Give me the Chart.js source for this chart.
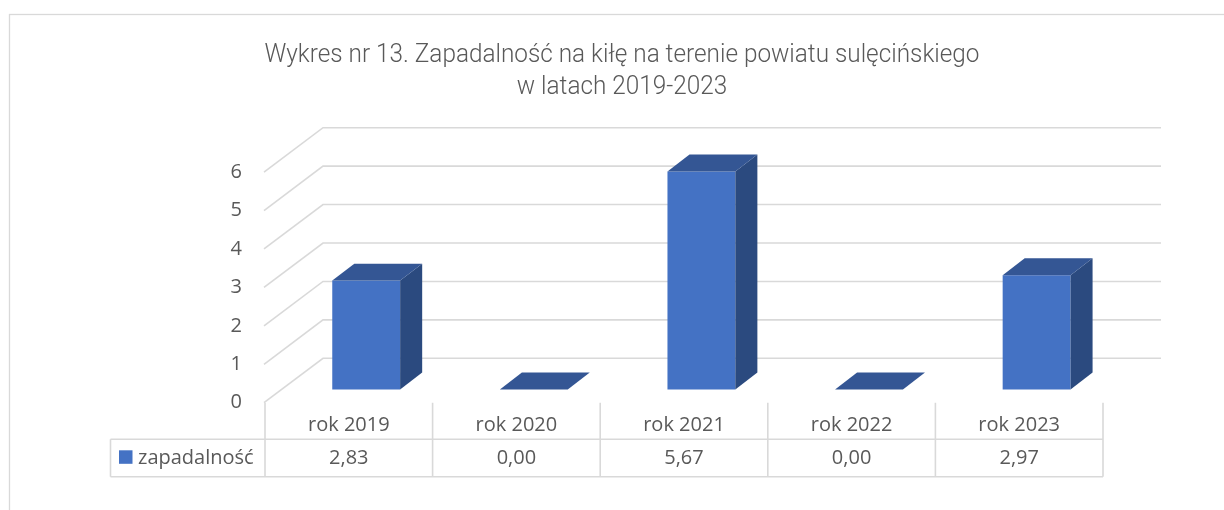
<!DOCTYPE html>
<html lang="pl">
<head>
    <meta charset="UTF-8" />
    <title>Wykres nr 13 - zapadalność na kiłę</title>
    <script src="https://cdn.jsdelivr.net/npm/chart.js"></script>
    <style>
        body { margin: 0; background: #fff; }
    </style>
</head>
<body>
    <canvas id="chart" width="1224" height="510"></canvas>

    <script>
        // dane
        const categories = ['rok 2019', 'rok 2020', 'rok 2021', 'rok 2022', 'rok 2023'];
        const incidence = [2.83, 0.00, 5.67, 0.00, 2.97];
        const yTicks = [0, 1, 2, 3, 4, 5, 6];
        const seriesName = 'zapadalność';
        const titleLines = [
            'Wykres nr 13. Zapadalność na kiłę na terenie powiatu sulęcińskiego',
            'w latach 2019-2023'
        ];

        // wygląd
        const GRID = '#d9d9d9';
        const TEXT = '#595959';
        const FRONT = '#4472c4';
        const TOP = '#345694';
        const SIDE = '#2b4a7f';
        const FONT = '"Open Sans", "Noto Sans", sans-serif';
        const DEPTH = { x: 58, y: -44.4 };  // głębokość podłogi 3D
        const BAR_Z0 = 0.3, BAR_Z1 = 0.68;   // przód / tył słupka w głębi
        const TITLE_WIDTH = 715;

        const fmt = v => v.toFixed(2).replace('.', ',');

        const frame3d = {
            id: 'frame3d',
            beforeDraw(chart) {
                const { ctx, chartArea: a, scales: { x, y } } = chart;
                ctx.save();
                ctx.fillStyle = '#fff';
                ctx.fillRect(0, 0, chart.width, chart.height);

                // ramka obszaru wykresu
                ctx.strokeStyle = GRID;
                ctx.lineWidth = 1.3;
                ctx.strokeRect(9.5, 14.5, chart.width + 20, chart.height + 20);

                // tytuł (wąska czcionka)
                ctx.fillStyle = TEXT;
                ctx.font = '300 26px Roboto';
                ctx.textAlign = 'center';
                ctx.textBaseline = 'alphabetic';
                const sx = TITLE_WIDTH / ctx.measureText(titleLines[0]).width;
                titleLines.forEach((t, i) => {
                    ctx.save();
                    ctx.translate(622, 62 + i * 31.6);
                    ctx.scale(sx, 1);
                    ctx.fillText(t, 0, 0);
                    ctx.restore();
                });

                // ściana boczna i tylna
                ctx.lineWidth = 1.6;
                ctx.strokeStyle = GRID;
                y.ticks.forEach(t => {
                    const py = y.getPixelForValue(t.value);
                    ctx.beginPath();
                    ctx.moveTo(a.left - 1, py);
                    ctx.lineTo(a.left + DEPTH.x, py + DEPTH.y);
                    ctx.lineTo(a.right + DEPTH.x, py + DEPTH.y);
                    ctx.stroke();
                });

                // tabela danych
                const catW = x.width / categories.length;
                const top = a.bottom, mid = a.bottom + 36.6, bot = a.bottom + 74;
                const left = 110.5;
                ctx.beginPath();
                categories.forEach((c, i) => {
                    const px = x.getPixelForValue(i) - catW / 2;
                    ctx.moveTo(px, top);
                    ctx.lineTo(px, bot);
                });
                const lastX = x.getPixelForValue(categories.length - 1) + catW / 2;
                ctx.moveTo(lastX, top);
                ctx.lineTo(lastX, bot);
                ctx.moveTo(left, mid); ctx.lineTo(lastX, mid);
                ctx.moveTo(left, bot); ctx.lineTo(lastX, bot);
                ctx.moveTo(left, mid); ctx.lineTo(left, bot);
                ctx.stroke();

                ctx.font = '20px ' + FONT;
                ctx.fillStyle = TEXT;
                ctx.textBaseline = 'middle';
                ctx.textAlign = 'center';
                categories.forEach((c, i) => {
                    const px = x.getPixelForValue(i);
                    ctx.fillText(c, px, top + 23);
                    ctx.fillText(fmt(incidence[i]), px, mid + 19);
                });
                ctx.fillStyle = FRONT;
                ctx.fillRect(119, mid + 11, 13.5, 13.5);
                ctx.fillStyle = TEXT;
                ctx.textAlign = 'left';
                ctx.fillText(seriesName, 138, mid + 18.5);
                ctx.restore();
            },
            beforeDatasetsDraw(chart) {
                chart.ctx.save();
                chart.ctx.translate(DEPTH.x * BAR_Z0, DEPTH.y * BAR_Z0);
            },
            afterDatasetsDraw(chart) {
                const ctx = chart.ctx;
                const dx = DEPTH.x * (BAR_Z1 - BAR_Z0), dy = DEPTH.y * (BAR_Z1 - BAR_Z0);
                chart.getDatasetMeta(0).data.forEach(bar => {
                    const { x, y, base, width } = bar.getProps(['x', 'y', 'base', 'width'], true);
                    const l = x - width / 2, r = x + width / 2;
                    ctx.fillStyle = SIDE;
                    ctx.beginPath();
                    ctx.moveTo(r, y);
                    ctx.lineTo(r + dx, y + dy);
                    ctx.lineTo(r + dx, base + dy);
                    ctx.lineTo(r, base);
                    ctx.closePath();
                    ctx.fill();
                    ctx.fillStyle = TOP;
                    ctx.beginPath();
                    ctx.moveTo(l, y);
                    ctx.lineTo(l + dx, y + dy);
                    ctx.lineTo(r + dx, y + dy);
                    ctx.lineTo(r, y);
                    ctx.closePath();
                    ctx.fill();
                });
                ctx.restore();
            }
        };

        new Chart(document.getElementById('chart'), {
            type: 'bar',
            data: {
                labels: categories,
                datasets: [{
                    label: seriesName,
                    data: incidence,
                    backgroundColor: FRONT,
                    borderWidth: 0,
                    barPercentage: 0.405,
                    categoryPercentage: 1,
                    clip: false
                }]
            },
            options: {
                responsive: false,
                devicePixelRatio: 1,
                animation: false,
                layout: { padding: { left: 10, top: 172.1, right: 121, bottom: 107.3 } },
                plugins: {
                    legend: { display: false },
                    tooltip: { enabled: false }
                },
                scales: {
                    x: { display: false },
                    y: {
                        min: 0,
                        max: 6,
                        afterBuildTicks: s => { s.ticks = yTicks.map(v => ({ value: v })); },
                        afterFit: s => { s.width = 255; },
                        grid: { display: false, drawTicks: false },
                        border: { display: false },
                        ticks: { color: TEXT, font: { family: FONT, size: 20 }, padding: 23 }
                    }
                }
            },
            plugins: [frame3d]
        });
    </script>
</body>
</html>
